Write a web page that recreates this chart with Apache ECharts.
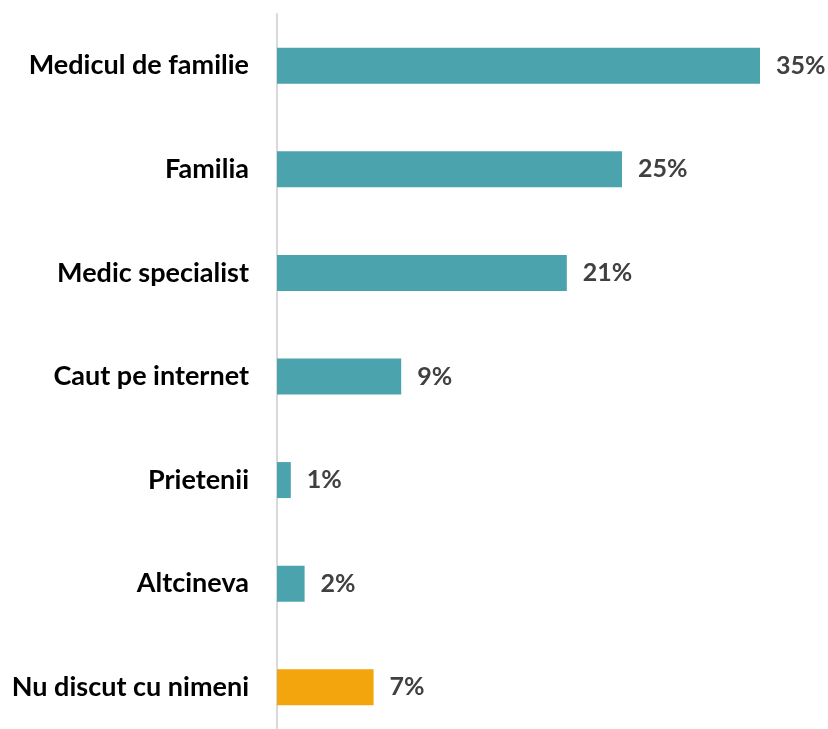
<!DOCTYPE html>
<html>
<head>
<meta charset="utf-8">
<script src="https://cdn.jsdelivr.net/npm/echarts@6/dist/echarts.min.js"></script>
<style>
  html, body { margin: 0; padding: 0; background: #FFFFFF; overflow: hidden; }
  #chart { width: 828px; height: 739px; }
</style>
</head>
<body>
<div id="chart"></div>
<script>
// categories top to bottom
var categories = ['Medicul de familie', 'Familia', 'Medic specialist', 'Caut pe internet', 'Prietenii', 'Altcineva', 'Nu discut cu nimeni'];
var values = [35, 25, 21, 9, 1, 2, 7];
var barColors = ['#4ba3ae', '#4ba3ae', '#4ba3ae', '#4ba3ae', '#4ba3ae', '#4ba3ae', '#f2a50c'];

var chart = echarts.init(document.getElementById('chart'));
var option = {
  animation: false,
  grid: {
    left: 277,
    right: 68,
    top: 14,
    bottom: 0,
    containLabel: false
  },
  xAxis: {
    type: 'value',
    min: 0,
    max: 35,
    show: false
  },
  yAxis: {
    type: 'category',
    inverse: true,
    data: categories,
    axisLine: { show: true, lineStyle: { color: '#d9d9d9', width: 2 } },
    axisTick: { show: false },
    axisLabel: {
      margin: 28,
      color: '#000000',
      fontFamily: 'Lato',
      fontWeight: 'bold',
      fontSize: 27
    }
  },
  series: [
    {
      type: 'bar',
      barWidth: 36,
      data: values.map(function (v, i) {
        return { value: v, itemStyle: { color: barColors[i] } };
      }),
      label: {
        show: true,
        position: 'right',
        distance: 16,
        formatter: '{c}%',
        color: '#404040',
        fontFamily: 'Lato',
        fontWeight: 'bold',
        fontSize: 25
      }
    }
  ]
};
chart.setOption(option, true);
</script>
</body>
</html>
